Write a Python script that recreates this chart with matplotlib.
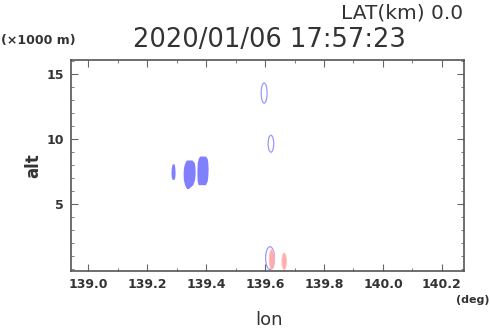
import matplotlib
matplotlib.use('Agg')
import matplotlib.pyplot as plt
from matplotlib.patches import Ellipse
from matplotlib.ticker import MultipleLocator

# filled echo cells (blue), each given as altitude levels with left/right lon edges
cell_alts = [
    [6.9, 7.1, 7.4, 7.8, 8.1],
    [6.2, 6.5, 6.9, 7.4, 7.9, 8.2, 8.4],
    [6.5, 6.8, 7.2, 7.7, 8.2, 8.5, 8.7],
]
cell_left = [
    [139.285, 139.282, 139.281, 139.282, 139.285],
    [139.334, 139.327, 139.323, 139.322, 139.324, 139.328, 139.333],
    [139.373, 139.370, 139.369, 139.369, 139.370, 139.373, 139.378],
]
cell_right = [
    [139.291, 139.294, 139.295, 139.294, 139.292],
    [139.340, 139.355, 139.361, 139.363, 139.362, 139.360, 139.352],
    [139.398, 139.404, 139.406, 139.407, 139.406, 139.404, 139.398],
]

# outlined echoes: lon, alt, width (deg), height (km), colour, filled
ell_lon = [139.597, 139.620, 139.617, 139.623, 139.665]
ell_alt = [13.55, 9.65, 0.85, 0.75, 0.6]
ell_w = [0.020, 0.019, 0.030, 0.017, 0.015]
ell_h = [1.55, 1.3, 1.75, 1.5, 1.25]
ell_col = ['#9999ff', '#9999ff', '#9999ff', '#ff9999', '#ff9999']
ell_fill = [False, False, False, True, True]

xticks = [139.0, 139.2, 139.4, 139.6, 139.8, 140.0, 140.2]
yticks = [5, 10, 15]

txt = '#333333'
fig = plt.figure(figsize=(4.9, 3.31), dpi=100)
ax = fig.add_axes([0.145, 0.181, 0.802, 0.638])

for a, l, r in zip(cell_alts, cell_left, cell_right):
    ax.fill_betweenx(a, l, r, color='#8080ff', lw=0)

for x, y, w, h, c, f in zip(ell_lon, ell_alt, ell_w, ell_h, ell_col, ell_fill):
    if f:
        ax.add_patch(Ellipse((x, y), w, h, facecolor=c, edgecolor='#ffbbbb', lw=0.8, alpha=0.8))
    else:
        ax.add_patch(Ellipse((x, y), w, h, facecolor='none', edgecolor=c, lw=0.9))

ax.set_xlim(138.942, 140.275)
ax.set_ylim(-0.15, 16.1)
ax.set_xticks(xticks)
ax.set_xticklabels(['%.1f' % v for v in xticks])
ax.set_yticks(yticks)
ax.xaxis.set_minor_locator(MultipleLocator(0.1))
ax.yaxis.set_minor_locator(MultipleLocator(1))
ax.tick_params(which='both', direction='in', top=True, right=True, color='#666666')
ax.tick_params(which='major', length=5, width=0.8, labelsize=9, labelcolor=txt, pad=5)
ax.tick_params(which='minor', length=2.5, width=0.6)
for lab in ax.get_xticklabels() + ax.get_yticklabels():
    lab.set_fontweight('bold')
for s in ax.spines.values():
    s.set_color('#555555')
    s.set_linewidth(1.2)

ax.set_ylabel('alt', fontsize=12, fontweight='bold', color=txt, labelpad=3)

fig.text(0.549, 0.033, 'lon', fontsize=13, color=txt, ha='center', va='center')
fig.text(0.549, 0.879, '2020/01/06 17:57:23', fontsize=18.5, color=txt, ha='center', va='center')
fig.text(0.945, 0.962, 'LAT(km) 0.0', fontsize=14.5, color=txt, ha='right', va='center')
fig.text(0.002, 0.879, '(\u00d71000 m)', fontsize=9, fontweight='bold', color=txt, ha='left', va='center')
fig.text(0.998, 0.093, '(deg)', fontsize=8, fontweight='bold', color=txt, ha='right', va='center')

plt.savefig('out.png', dpi=100)
